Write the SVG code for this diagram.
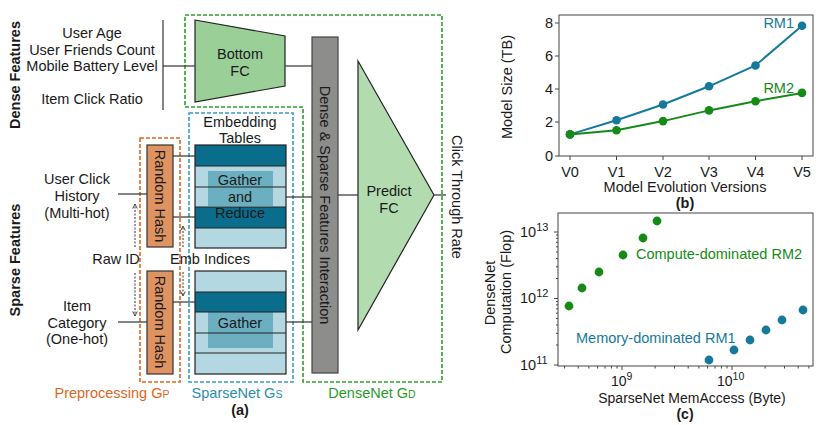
<svg xmlns="http://www.w3.org/2000/svg" width="830" height="425" viewBox="0 0 830 425">
<defs>
<style>
text{font-family:"Liberation Sans",Arial,sans-serif;fill:#1a1a1a;font-size:14.5px}
.c{text-anchor:middle}
.e{text-anchor:end}
.b{font-weight:bold}
.ln{stroke:#333;stroke-width:1.2;fill:none}
.dk{fill:#0b6d8c}
.lt{fill:#b4d8e1}
.ov{fill:#6bafc1}
.rl{stroke:#222;stroke-width:1.2}
.bd{fill:none;stroke:#222;stroke-width:1.2}
.dash{fill:none;stroke-width:1.6;stroke-dasharray:4 2}
.dot{stroke:#555;stroke-width:1.2;stroke-dasharray:2 1.5;fill:none}
.ax{fill:none;stroke:#444;stroke-width:1}
.tk{stroke:#444;stroke-width:1}
.blue{fill:#15799b}
.green{fill:#168a16}
</style>
<marker id="ah" viewBox="0 0 8 8" refX="7" refY="4" markerWidth="5" markerHeight="5" orient="auto"><path d="M1,1 L7,4 L1,7" fill="none" stroke="#444" stroke-width="1.3"/></marker>
</defs>

<!-- Panel (a) -->
<g id="region-dense">
<path d="M185,15 H442 V382 H303 V107 H185 Z" class="dash" stroke="#2e9e2e"/>
</g>
<g id="region-preproc"><rect x="140" y="138" width="40" height="244" class="dash" stroke="#e0661c"/></g>
<g id="region-sparse"><rect x="189" y="113" width="104" height="269" class="dash" stroke="#3a9ac0"/></g>

<g id="side-labels">
<text class="c b" transform="translate(20,75) rotate(-90)">Dense Features</text>
<text class="c b" transform="translate(20,260) rotate(-90)">Sparse Features</text>
</g>

<g id="dense-inputs">
<text class="c" x="92" y="38">User Age</text>
<text class="c" x="92" y="55">User Friends Count</text>
<text class="c" x="92" y="71">Mobile Battery Level</text>
<text class="c" x="92" y="104">Item Click Ratio</text>
</g>

<g id="sparse-input-1">
<text class="c" x="77" y="184">User Click</text>
<text class="c" x="77" y="201">History</text>
<text class="c" x="77" y="218">(Multi-hot)</text>
</g>
<g id="sparse-input-2">
<text class="c" x="77" y="311">Item</text>
<text class="c" x="77" y="328">Category</text>
<text class="c" x="77" y="344">(One-hot)</text>
</g>

<g id="bottom-fc">
<path d="M195,20 L285,36 L285,86 L195,102 Z" fill="#9bcf98" stroke="#222" stroke-width="1.2"/>
<text class="c" x="240" y="59">Bottom</text>
<text class="c" x="240" y="76">FC</text>
</g>

<g id="random-hash-1">
<rect x="147" y="145" width="26" height="102" fill="#df9361" stroke="#333" stroke-width="1.2"/>
<text class="c" transform="translate(155,196) rotate(90)">Random Hash</text>
</g>
<g id="random-hash-2">
<rect x="147" y="271" width="26" height="103" fill="#df9361" stroke="#333" stroke-width="1.2"/>
<text class="c" transform="translate(155,322) rotate(90)">Random Hash</text>
</g>

<g id="embedding-label">
<text class="c" x="240" y="127">Embedding</text>
<text class="c" x="240" y="143">Tables</text>
</g>

<g id="emb-table-1">
<rect x="195" y="145" width="91" height="21" class="dk"/>
<rect x="195" y="166" width="91" height="41" class="lt"/>
<rect x="195" y="207" width="91" height="21" class="dk"/>
<rect x="195" y="228" width="91" height="20" class="lt"/>
<rect x="208" y="171" width="65" height="35" class="ov"/>
<line x1="195" y1="166" x2="286" y2="166" class="rl"/>
<line x1="195" y1="187" x2="286" y2="187" class="rl"/>
<line x1="195" y1="207" x2="286" y2="207" class="rl"/>
<line x1="195" y1="228" x2="286" y2="228" class="rl"/>
<rect x="195" y="145" width="91" height="103" class="bd"/>
<text class="c" x="240" y="185">Gather</text>
<text class="c" x="240" y="202">and</text>
<text class="c" x="240" y="218">Reduce</text>
</g>

<g id="emb-table-2">
<rect x="195" y="271" width="91" height="103" class="lt"/>
<rect x="195" y="292" width="91" height="20" class="dk"/>
<rect x="208" y="312" width="65" height="36" class="ov"/>
<line x1="195" y1="292" x2="286" y2="292" class="rl"/>
<line x1="195" y1="312" x2="286" y2="312" class="rl"/>
<line x1="195" y1="333" x2="286" y2="333" class="rl"/>
<line x1="195" y1="353" x2="286" y2="353" class="rl"/>
<rect x="195" y="271" width="91" height="103" class="bd"/>
<text class="c" x="240" y="328">Gather</text>
</g>

<g id="interaction">
<rect x="312" y="37" width="26" height="336" fill="#8d8d8b" stroke="#444" stroke-width="1.2"/>
<text class="c" transform="translate(320,205) rotate(90)">Dense &amp; Sparse Features Interaction</text>
</g>

<g id="predict-fc">
<path d="M358,61 L434,195 L358,330 Z" fill="#b2dcaf" stroke="#222" stroke-width="1.2"/>
<text class="c" x="389" y="196">Predict</text>
<text class="c" x="389" y="213">FC</text>
</g>

<g id="output-label">
<text class="c" transform="translate(452,197) rotate(90)">Click Through Rate</text>
</g>

<g id="flow-labels">
<text class="c" x="116" y="264">Raw ID</text>
<text class="c" x="210" y="264">Emb Indices</text>
</g>

<g id="connectors">
<line x1="163" y1="20" x2="163" y2="110" class="ln"/>
<line x1="163" y1="66" x2="195" y2="66" class="ln"/>
<line x1="285" y1="66" x2="312" y2="66" class="ln"/>
<line x1="118" y1="194" x2="147" y2="194" class="ln"/>
<line x1="118" y1="322" x2="147" y2="322" class="ln"/>
<line x1="173" y1="156" x2="195" y2="156" class="ln"/>
<line x1="173" y1="217" x2="195" y2="217" class="ln"/>
<line x1="173" y1="302" x2="195" y2="302" class="ln"/>
<line x1="286" y1="197" x2="312" y2="197" class="ln"/>
<line x1="286" y1="322" x2="312" y2="322" class="ln"/>
<line x1="338" y1="195" x2="358" y2="195" class="ln"/>
<line x1="434" y1="195" x2="446" y2="195" class="ln"/>
<line x1="135" y1="247" x2="135" y2="204" class="dot" marker-end="url(#ah)"/>
<line x1="135" y1="273" x2="135" y2="316" class="dot" marker-end="url(#ah)"/>
<line x1="183" y1="247" x2="183" y2="226" class="dot" marker-end="url(#ah)"/>
<line x1="183" y1="272" x2="183" y2="296" class="dot" marker-end="url(#ah)"/>
</g>

<g id="subgraph-labels">
<text class="c" x="112" y="398" style="fill:#e0661c">Preprocessing G<tspan font-size="10.5">P</tspan></text>
<text class="c" x="237" y="398" style="fill:#2a8db0">SparseNet G<tspan font-size="10.5">S</tspan></text>
<text class="c" x="372" y="398" style="fill:#2a9a2a">DenseNet G<tspan font-size="10.5">D</tspan></text>
<text class="c b" x="240" y="415">(a)</text>
</g>

<!-- Panel (b) -->
<g id="chart-b">
<rect x="559" y="15" width="254" height="141" class="ax"/>
<g class="tk">
<line x1="555" y1="23" x2="559" y2="23"/><line x1="555" y1="56" x2="559" y2="56"/><line x1="555" y1="89" x2="559" y2="89"/><line x1="555" y1="122" x2="559" y2="122"/><line x1="555" y1="156" x2="559" y2="156"/>
<line x1="570" y1="156" x2="570" y2="160"/><line x1="616.5" y1="156" x2="616.5" y2="160"/><line x1="663" y1="156" x2="663" y2="160"/><line x1="709" y1="156" x2="709" y2="160"/><line x1="755.5" y1="156" x2="755.5" y2="160"/><line x1="802" y1="156" x2="802" y2="160"/>
</g>
<text class="e" x="553" y="28">8</text>
<text class="e" x="553" y="61">6</text>
<text class="e" x="553" y="94">4</text>
<text class="e" x="553" y="127">2</text>
<text class="e" x="553" y="161">0</text>
<text class="c" x="570" y="177">V0</text>
<text class="c" x="616.5" y="177">V1</text>
<text class="c" x="663" y="177">V2</text>
<text class="c" x="709" y="177">V3</text>
<text class="c" x="755.5" y="177">V4</text>
<text class="c" x="802" y="177">V5</text>
<text class="c" x="685" y="192">Model Evolution Versions</text>
<text class="c" transform="translate(512,87) rotate(-90)">Model Size (TB)</text>
<text class="c b" x="685" y="208">(b)</text>
<polyline points="570,134.4 616.5,120.3 663,104.5 709,86.3 755.5,65.5 802,25.7" fill="none" stroke="#15799b" stroke-width="2"/>
<polyline points="570,134.4 616.5,130.3 663,121.1 709,110.4 755.5,101.2 802,92.9" fill="none" stroke="#168a16" stroke-width="2"/>
<g class="blue">
<circle cx="616.5" cy="120.3" r="4.3"/><circle cx="663" cy="104.5" r="4.3"/><circle cx="709" cy="86.3" r="4.3"/><circle cx="755.5" cy="65.5" r="4.3"/><circle cx="802" cy="25.7" r="4.3"/><circle cx="570" cy="134.4" r="4.3"/>
</g>
<g class="green">
<circle cx="570" cy="134.4" r="4.3"/><circle cx="616.5" cy="130.3" r="4.3"/><circle cx="663" cy="121.1" r="4.3"/><circle cx="709" cy="110.4" r="4.3"/><circle cx="755.5" cy="101.2" r="4.3"/><circle cx="802" cy="92.9" r="4.3"/>
</g>
<text class="e" x="794" y="28" style="fill:#15799b">RM1</text>
<text class="e" x="794" y="93" style="fill:#168a16">RM2</text>
</g>

<!-- Panel (c) -->
<g id="chart-c">
<rect x="558" y="213" width="255" height="153" class="ax"/>
<g class="tk">
<line x1="554" y1="232" x2="558" y2="232"/><line x1="554" y1="298.5" x2="558" y2="298.5"/><line x1="554" y1="365" x2="558" y2="365"/>
<line x1="622" y1="366" x2="622" y2="370"/><line x1="732" y1="366" x2="732" y2="370"/>
</g>
<g class="tk" stroke-width="0.8">
<line x1="556" y1="345" x2="558" y2="345"/><line x1="556" y1="333.3" x2="558" y2="333.3"/><line x1="556" y1="325" x2="558" y2="325"/><line x1="556" y1="318.5" x2="558" y2="318.5"/><line x1="556" y1="313.2" x2="558" y2="313.2"/><line x1="556" y1="308.8" x2="558" y2="308.8"/><line x1="556" y1="304.9" x2="558" y2="304.9"/><line x1="556" y1="301.5" x2="558" y2="301.5"/>
<line x1="556" y1="278.5" x2="558" y2="278.5"/><line x1="556" y1="266.8" x2="558" y2="266.8"/><line x1="556" y1="258.5" x2="558" y2="258.5"/><line x1="556" y1="252" x2="558" y2="252"/><line x1="556" y1="246.8" x2="558" y2="246.8"/><line x1="556" y1="242.3" x2="558" y2="242.3"/><line x1="556" y1="238.4" x2="558" y2="238.4"/><line x1="556" y1="235" x2="558" y2="235"/>
<line x1="564.6" y1="366" x2="564.6" y2="368.5"/><line x1="578.2" y1="366" x2="578.2" y2="368.5"/><line x1="588.9" y1="366" x2="588.9" y2="368.5"/><line x1="597.6" y1="366" x2="597.6" y2="368.5"/><line x1="605" y1="366" x2="605" y2="368.5"/><line x1="611.4" y1="366" x2="611.4" y2="368.5"/><line x1="617" y1="366" x2="617" y2="368.5"/>
<line x1="655.1" y1="366" x2="655.1" y2="368.5"/><line x1="674.5" y1="366" x2="674.5" y2="368.5"/><line x1="688.2" y1="366" x2="688.2" y2="368.5"/><line x1="698.9" y1="366" x2="698.9" y2="368.5"/><line x1="707.6" y1="366" x2="707.6" y2="368.5"/><line x1="715" y1="366" x2="715" y2="368.5"/><line x1="721.4" y1="366" x2="721.4" y2="368.5"/><line x1="727" y1="366" x2="727" y2="368.5"/>
<line x1="765.1" y1="366" x2="765.1" y2="368.5"/><line x1="784.5" y1="366" x2="784.5" y2="368.5"/><line x1="798.2" y1="366" x2="798.2" y2="368.5"/><line x1="808.9" y1="366" x2="808.9" y2="368.5"/>
</g>
<text x="520" y="237">10<tspan font-size="11" dy="-6">13</tspan></text>
<text x="520" y="303">10<tspan font-size="11" dy="-6">12</tspan></text>
<text x="520" y="370">10<tspan font-size="11" dy="-6">11</tspan></text>
<text x="611" y="386" style="font-size:14px">10<tspan font-size="10.5" dy="-6">9</tspan></text>
<text x="717" y="386" style="font-size:14px">10<tspan font-size="10.5" dy="-6">10</tspan></text>
<text class="c" x="692" y="403" style="font-size:14px">SparseNet MemAccess (Byte)</text>
<text class="c b" x="685" y="419" style="font-size:14px">(c)</text>
<text class="c" transform="translate(495,293) rotate(-90)">DenseNet</text>
<text class="c" transform="translate(511,292) rotate(-90)">Computation (Flop)</text>
<g class="green">
<circle cx="569" cy="306" r="4.4"/><circle cx="582" cy="288" r="4.4"/><circle cx="599" cy="272" r="4.4"/><circle cx="623" cy="255" r="4.4"/><circle cx="643" cy="238" r="4.4"/><circle cx="657" cy="221" r="4.4"/>
</g>
<g class="blue">
<circle cx="709" cy="360" r="4.4"/><circle cx="734" cy="350" r="4.4"/><circle cx="750" cy="340" r="4.4"/><circle cx="766" cy="330" r="4.4"/><circle cx="782" cy="320" r="4.4"/><circle cx="803" cy="310" r="4.4"/>
</g>
<text x="636" y="259" style="fill:#168a16">Compute-dominated RM2</text>
<text x="576" y="343" style="fill:#15799b">Memory-dominated RM1</text>
</g>
</svg>
